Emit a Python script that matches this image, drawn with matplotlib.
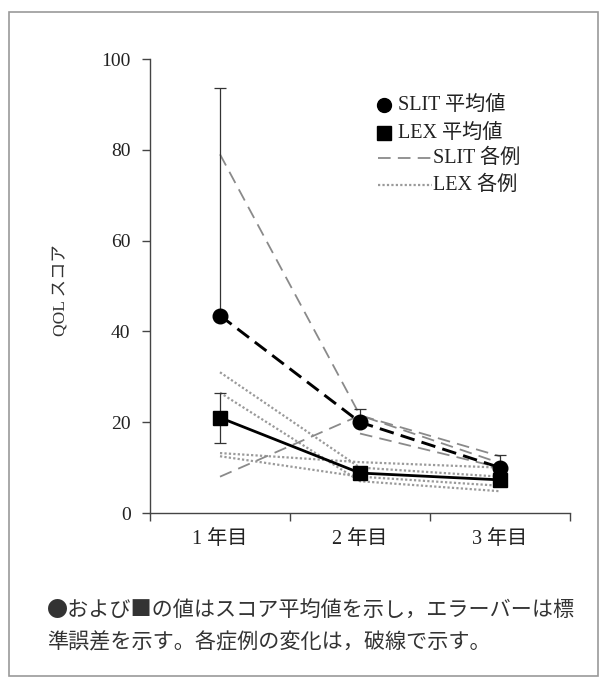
import numpy as np
import matplotlib
matplotlib.use("Agg")
import matplotlib.pyplot as plt
from matplotlib.lines import Line2D
from matplotlib.patches import Rectangle

plt.rcParams['font.family'] = ['Liberation Serif', 'Noto Sans CJK JP', 'DejaVu Sans']

years = ["1 年目", "2 年目", "3 年目"]
slit_mean = [43.5, 20.0, 10.0]
slit_err_up = [50.2, 2.8, 2.8]
lex_mean = [21.0, 8.8, 7.3]
lex_err = [5.5, 0.6, 0.6]

slit_cases = [
    [79.0, 21.5, 12.5],
    [8.0, 21.5, 11.0],
    [np.nan, 17.5, 10.0],
]
lex_cases = [
    [31.0, 10.0, 8.0],
    [26.5, 7.0, 4.8],
    [13.2, 11.2, 10.0],
    [12.5, 8.0, 6.0],
]

fig = plt.figure(figsize=(6.09, 6.86), dpi=100)
W, H = 609, 686
ax = fig.add_axes([150 / W, 1 - 513 / H, 420 / W, 454 / H])

x = np.arange(len(years))
gray = "#8a8a8a"
for c in lex_cases:
    ax.plot(x, c, color="#9a9a9a", lw=1.6, ls=(0, (1, 1)), zorder=2)
for c in slit_cases:
    ax.plot(x, c, color=gray, lw=1.3, ls=(0, (7, 4)), zorder=2)

ax.errorbar(x, lex_mean, yerr=lex_err, fmt="none", ecolor="#333333",
            elinewidth=0.9, capsize=4, capthick=0.9, zorder=3)
ax.errorbar(x, slit_mean, yerr=[[0, 0, 0], slit_err_up], fmt="none",
            ecolor="#333333", elinewidth=0.9, capsize=4, capthick=0.9, zorder=3)
ax.plot(x, lex_mean, color="black", lw=2.0, ls="-", marker="s",
        markersize=10.5, zorder=4)
ax.plot(x, slit_mean, color="black", lw=2.1, ls=(0, (5, 2.5)), marker="o",
        markersize=10.5, zorder=5)

ax.set_xlim(-0.5, 2.5)
ax.set_ylim(0, 100)
ax.set_yticks([0, 20, 40, 60, 80, 100])
ax.set_xticks([-0.5, 0.5, 1.5, 2.5])
ax.set_xticklabels([])
ax.set_xticks(x, minor=True)
ax.set_xticklabels(years, minor=True)
ax.tick_params(axis="x", which="minor", length=0, pad=12, labelsize=14.5,
               colors="#222222")
ax.tick_params(axis="x", which="major", length=6, width=1, color="#444444")
ax.tick_params(axis="y", length=6, width=1, color="#444444", labelsize=14,
               labelcolor="#222222", pad=8)
for s in ["top", "right"]:
    ax.spines[s].set_visible(False)
for s in ["left", "bottom"]:
    ax.spines[s].set_color("#444444")
    ax.spines[s].set_linewidth(1.0)

fig.text(62 / W, 1 - 290 / H, "QOL スコア", rotation=90, ha="center",
         va="center", fontsize=12.5, color="#333333")

# legend drawn manually
def fy(py):
    return 1 - py / H

fig.add_artist(Line2D([384 / W], [fy(105)], marker="o", color="black",
                      markersize=10, transform=fig.transFigure))
fig.add_artist(Line2D([384 / W], [fy(133)], marker="s", color="black",
                      markersize=10, transform=fig.transFigure))
fig.add_artist(Line2D([378 / W, 432 / W], [fy(158), fy(158)], color=gray,
                      lw=1.3, ls=(0, (7, 4)), transform=fig.transFigure))
fig.add_artist(Line2D([378 / W, 432 / W], [fy(185), fy(185)], color="#9a9a9a",
                      lw=1.6, ls=(0, (1, 1)), transform=fig.transFigure))
leg_txt = [("SLIT 平均値", 398, 105), ("LEX 平均値", 398, 133),
           ("SLIT 各例", 433, 158), ("LEX 各例", 433, 185)]
for t, px, py in leg_txt:
    fig.text(px / W, fy(py), t, ha="left", va="center", fontsize=14.5,
             color="#222222")

cap1 = "●および■の値はスコア平均値を示し，エラーバーは標"
cap2 = "準誤差を示す。各症例の変化は，破線で示す。"
fig.text(47 / W, fy(611), cap1, ha="left", va="center", fontsize=15.2,
         color="#333333", family=["Noto Sans CJK JP", "DejaVu Sans"])
fig.text(47 / W, fy(642), cap2, ha="left", va="center", fontsize=15.2,
         color="#333333", family=["Noto Sans CJK JP", "DejaVu Sans"])

fig.add_artist(Rectangle((9 / W, fy(676)), 589 / W, 664 / H, fill=False,
                         edgecolor="#9a9a9a", lw=1.2, transform=fig.transFigure))

fig.savefig("out.png", dpi=100)
